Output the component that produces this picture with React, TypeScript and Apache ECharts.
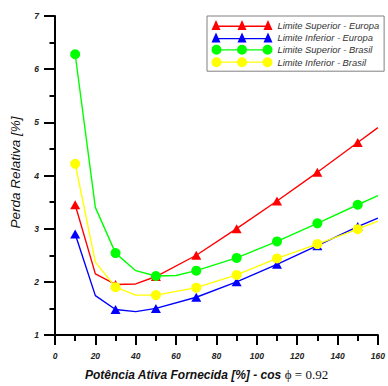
import React, { useEffect, useRef } from "react";
import * as echarts from "echarts";

const seriesNames = [
  "Limite Superior - Europa",
  "Limite Inferior - Europa",
  "Limite Superior - Brasil",
  "Limite Inferior - Brasil",
];
const seriesColors = ["#ff0000", "#0000ff", "#00ff00", "#ffff00"];
const seriesSymbols = ["triangle", "triangle", "circle", "circle"];

// x positions [%] and whether a marker is drawn there
const xSupEuropa = [10, 20, 30, 40, 50, 70, 90, 110, 130, 150, 160];
const ySupEuropa = [3.45, 2.15, 1.95, 1.96, 2.1, 2.5, 3.0, 3.52, 4.06, 4.62, 4.9];
const xInfEuropa = [10, 20, 30, 40, 50, 70, 90, 110, 130, 150, 160];
const yInfEuropa = [2.9, 1.74, 1.48, 1.44, 1.5, 1.71, 2.0, 2.33, 2.68, 3.04, 3.2];
const xSupBrasil = [10, 20, 30, 40, 50, 60, 70, 90, 110, 130, 150, 160];
const ySupBrasil = [6.28, 3.4, 2.54, 2.21, 2.11, 2.12, 2.21, 2.45, 2.76, 3.1, 3.45, 3.62];
const xInfBrasil = [10, 20, 30, 40, 50, 70, 90, 110, 130, 150, 160];
const yInfBrasil = [4.22, 2.37, 1.9, 1.75, 1.75, 1.89, 2.13, 2.44, 2.71, 2.99, 3.14];
const markerX = [10, 30, 50, 70, 90, 110, 130, 150];

const xTicks = [0, 20, 40, 60, 80, 100, 120, 140, 160];
const yTicks = [1, 2, 3, 4, 5, 6, 7];

const seriesX = [xSupEuropa, xInfEuropa, xSupBrasil, xInfBrasil];
const seriesY = [ySupEuropa, yInfEuropa, ySupBrasil, yInfBrasil];

function triIcon(): string {
  const cs = [4.5, 30.5, 56.5];
  let d = "";
  cs.forEach((c) => {
    d += `M${c},0 L${c + 4.5},10 L${c - 4.5},10 Z `;
  });
  for (let i = 0; i < cs.length - 1; i++) {
    const a = cs[i] + 1.5;
    const b = cs[i + 1] - 1.5;
    d += `M${a},5.6 L${b},5.6 L${b},6.9 L${a},6.9 Z `;
  }
  return "path://" + d;
}

function circIcon(): string {
  const cs = [5, 30.5, 56];
  let d = "";
  cs.forEach((c) => {
    d += `M${c - 5},5 A5,5 0 1,1 ${c + 5},5 A5,5 0 1,1 ${c - 5},5 Z `;
  });
  for (let i = 0; i < cs.length - 1; i++) {
    const a = cs[i] + 4.6;
    const b = cs[i + 1] - 4.6;
    d += `M${a},4.35 L${b},4.35 L${b},5.65 L${a},5.65 Z `;
  }
  return "path://" + d;
}

export default function App() {
  const ref = useRef<HTMLDivElement>(null);
  useEffect(() => {
    if (!ref.current) return;
    const chart = echarts.init(ref.current, undefined, { renderer: "svg" });
    const font = "'Liberation Sans', Arial, sans-serif";
    const series = seriesNames.map((name, i) => ({
      name,
      type: "line",
      symbol: seriesSymbols[i],
      symbolSize: seriesSymbols[i] === "triangle" ? [10, 9] : 10,
      showAllSymbol: true,
      lineStyle: { color: seriesColors[i], width: 1.4 },
      itemStyle: { color: seriesColors[i], borderWidth: 0 },
      emphasis: { disabled: true },
      data: seriesX[i].map((x, j) =>
        markerX.includes(x)
          ? { value: [x, seriesY[i][j]] }
          : { value: [x, seriesY[i][j]], symbol: "none" }
      ),
      z: i === 3 ? 4 : 2 + i * 0.1,
    }));
    chart.setOption({
      animation: false,
      backgroundColor: "#ffffff",
      grid: { left: 55, right: 8, top: 16, bottom: 46 },
      legend: {
        left: 207,
        top: 16,
        orient: "vertical",
        padding: [4, 5, 4, 4.5],
        itemGap: 2.4,
        itemWidth: 61,
        itemHeight: 10,
        borderColor: "#808080",
        borderWidth: 1,
        backgroundColor: "#ffffff",
        symbolKeepAspect: false,
        itemStyle: { borderWidth: 0 },
        selectedMode: false,
        textStyle: {
          fontFamily: font,
          fontStyle: "italic",
          fontSize: 9.4,
          color: "#333333",
          padding: [0, 0, 0, 0],
        },
        data: seriesNames.map((n, i) => ({
          name: n,
          icon: seriesSymbols[i] === "triangle" ? triIcon() : circIcon(),
        })),
      },
      xAxis: {
        type: "value",
        min: xTicks[0],
        max: xTicks[xTicks.length - 1],
        interval: 20,
        name: "{a|Potência Ativa Fornecida [%] - cos }{b|ϕ = 0.92}",
        nameLocation: "middle",
        nameGap: 33,
        nameTextStyle: {
          padding: [0, 20, 0, 0],
          rich: {
            a: {
              fontFamily: font,
              fontStyle: "italic",
              fontWeight: "bold",
              fontSize: 12,
              color: "#111111",
            },
            b: {
              fontFamily: "'Liberation Serif', 'Times New Roman', serif",
              fontSize: 13,
              color: "#111111",
            },
          },
        },
        axisLine: { onZero: false, lineStyle: { color: "#000", width: 2 } },
        axisTick: { length: 10, lineStyle: { color: "#000", width: 2 } },
        minorTick: { show: true, splitNumber: 2, length: 6, lineStyle: { color: "#000", width: 2 } },
        splitLine: { show: false },
        axisLabel: {
          margin: 16,
          fontFamily: font,
          fontStyle: "italic",
          fontWeight: "bold",
          fontSize: 8.5,
          color: "#222222",
          formatter: (v: number) => (xTicks.includes(v) ? String(v) : ""),
        },
      },
      yAxis: {
        type: "value",
        min: yTicks[0],
        max: yTicks[yTicks.length - 1],
        interval: 1,
        name: "Perda Relativa [%]",
        nameLocation: "middle",
        nameGap: 33,
        nameTextStyle: {
          fontFamily: font,
          fontStyle: "italic",
          fontSize: 13.5,
          color: "#111111",
          padding: [0, 0, 0, 6],
        },
        axisLine: { onZero: false, lineStyle: { color: "#000", width: 2 } },
        axisTick: { length: 11, lineStyle: { color: "#000", width: 2 } },
        minorTick: { show: true, splitNumber: 2, length: 5.5, lineStyle: { color: "#000", width: 2 } },
        splitLine: { show: false },
        axisLabel: {
          margin: 16,
          fontFamily: font,
          fontStyle: "italic",
          fontWeight: "bold",
          fontSize: 8.5,
          color: "#222222",
          formatter: (v: number) => (yTicks.includes(v) ? String(v) : ""),
        },
      },
      series,
    });
    return () => chart.dispose();
  }, []);
  return (
    <div
      ref={ref}
      style={{ position: "fixed", left: 0, top: 0, width: 388, height: 386 }}
    />
  );
}
